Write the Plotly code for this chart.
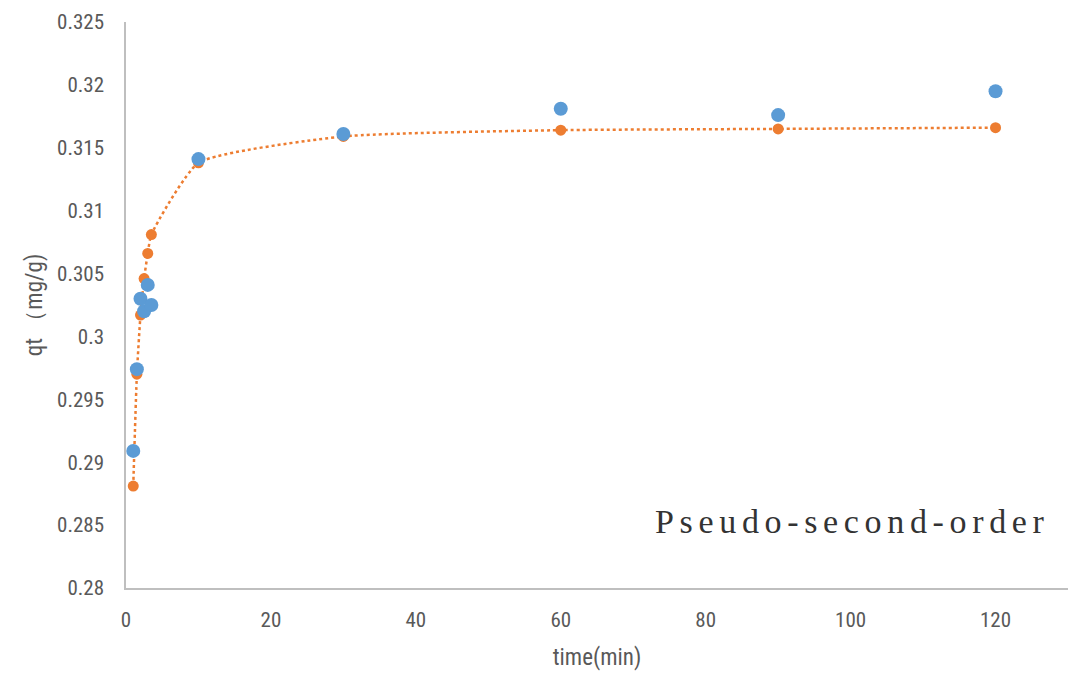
import plotly.graph_objects as go

# Contact time (min)
time_min = [1, 1.5, 2, 2.5, 3, 3.5, 10, 30, 60, 90, 120]
# Experimental uptake qt (mg/g)
qt_exp = [0.2909, 0.2974, 0.3030, 0.3020, 0.3041, 0.3025, 0.3141, 0.3161, 0.3181, 0.3176, 0.3195]
# Pseudo-second-order model fit qt (mg/g)
qt_fit = [0.2881, 0.2970, 0.3017, 0.3046, 0.3066, 0.3081, 0.3138, 0.3159, 0.3164, 0.3165, 0.3166]

label_text = "Pseudo-second-order"

narrow = "Liberation Sans Narrow, Roboto Condensed, Roboto, sans-serif"
tick_font = dict(family=narrow, size=21, color="#595959")
title_font = dict(family=narrow, size=23, color="#595959")

fig = go.Figure()

fig.add_trace(go.Scatter(
    x=time_min, y=qt_fit, mode="lines+markers",
    line=dict(color="#ED7D31", width=2.5, dash="dot", shape="spline", smoothing=0.5),
    marker=dict(color="#ED7D31", size=11),
    showlegend=False,
))
fig.add_trace(go.Scatter(
    x=time_min, y=qt_exp, mode="markers",
    marker=dict(color="#5B9BD5", size=14),
    showlegend=False,
))

fig.add_annotation(
    text="\u2006".join(label_text),
    x=(1047 - 126) / (1068 - 126), y=(590 - 522) / (590 - 15),
    xref="paper", yref="paper",
    showarrow=False, xanchor="right", yanchor="middle",
    font=dict(family="Liberation Serif, Times New Roman, serif", size=34, color="#333333"),
)

fig.update_layout(
    width=1078, height=676,
    margin=dict(l=126, r=10, t=15, b=86),
    paper_bgcolor="white", plot_bgcolor="white",
    font=tick_font,
)
fig.update_xaxes(
    range=[0, 130], dtick=20, tick0=0,
    showgrid=False, zeroline=False,
    showline=True, linecolor="#BFBFBF", linewidth=1.5,
    ticks="outside", ticklen=12, tickcolor="rgba(0,0,0,0)",
    tickfont=tick_font,
    title=dict(text="time(min)", font=title_font, standoff=18),
)
fig.update_yaxes(
    range=[0.28, 0.325], dtick=0.005, tick0=0.28,
    showgrid=False, zeroline=False,
    showline=True, linecolor="#BFBFBF", linewidth=1.5,
    ticks="outside", ticklen=16, tickcolor="rgba(0,0,0,0)",
    tickfont=tick_font,
    title=dict(text="qt （mg/g)", font=title_font, standoff=8),
)

fig.write_html("out.html")
